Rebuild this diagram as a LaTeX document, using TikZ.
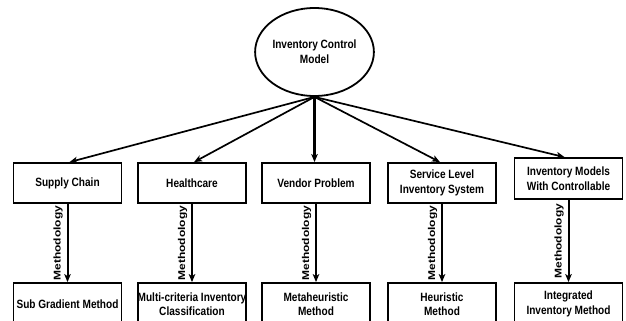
\documentclass[tikz,border=0pt]{standalone}
\usepackage{fontspec}
\setmainfont{Liberation Sans}[FakeStretch=0.84]
\newfontfamily\methfont{Liberation Sans}
\usetikzlibrary{shapes.geometric,arrows.meta}
\begin{document}
\begin{tikzpicture}[x=1pt,y=-1pt,
  box/.style={draw,line width=1.8pt,minimum width=108pt,minimum height=40pt,inner sep=0pt,align=center,font=\fontsize{12}{14.5}\selectfont\bfseries},
  bbox/.style={box,minimum height=42pt},
  conn/.style={line width=1.7pt,-{Stealth[length=8pt,width=6.5pt,inset=2pt]}},
  meth/.style={rotate=90,inner sep=0pt,font=\methfont\fontsize{12}{14}\selectfont\bfseries}
]
\useasboundingbox (0,0) rectangle (626,321);
\begin{scope}
\clip (0,0) rectangle (626,321);
\node[draw,ellipse,line width=1.8pt,minimum width=98pt,minimum height=88pt,inner sep=0pt,align=center,font=\fontsize{12}{15}\selectfont\bfseries] (e) at (314.5,52) {Inventory Control\\Model};

\node[box] (t1) at (67.5,183) {Supply Chain};
\node[box] (t2) at (192,183) {Healthcare};
\node[box] (t3) at (316,183) {Vendor Problem};
\node[box] (t4) at (442,183) {Service Level\\Inventory System};
\node[box,minimum height=41pt] (t5) at (568.5,178.5) {Inventory Models\\With Controllable};

\node[bbox] (b1) at (67.5,304) {Sub Gradient Method};
\node[bbox] (b2) at (192,304) {Multi-criteria Inventory\\Classification};
\node[bbox] (b3) at (316,304) {Metaheuristic\\Method};
\node[bbox] (b4) at (442,304) {Heuristic\\Method};
\node[bbox] (b5) at (568.5,304) {Integrated\\Inventory Method};

\draw[conn] (e.south) -- ([xshift=2pt]t1.north);
\draw[conn] (e.south) -- ([xshift=2pt]t2.north);
\draw[conn,line width=2.1pt] (e.south) -- (e.south |- t3.north);
\draw[conn] (e.south) -- ([xshift=-2pt]t4.north);
\draw[conn] (e.south) -- ([xshift=-4pt]t5.north);

\foreach \i in {1,...,5}{
  \draw[conn,line width=2pt] (t\i.south) -- (t\i.south |- b\i.north)
    node[midway,meth,yshift=9.5pt] {\scalebox{1}[0.82]{Methodology}};
}
\end{scope}
\end{tikzpicture}
\end{document}
